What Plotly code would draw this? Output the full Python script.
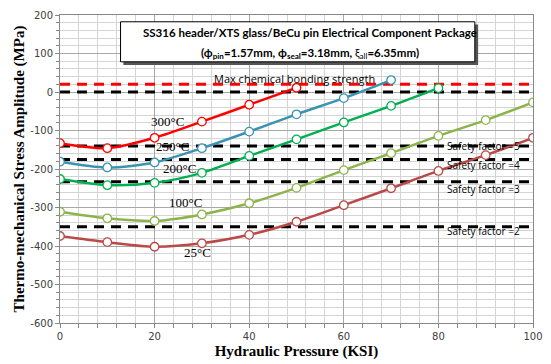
import plotly.graph_objects as go

pressure = [0, 10, 20, 30, 40, 50, 60, 70, 80, 90, 100]

s300 = [-133, -146, -119, -77, -33, 11]
s250 = [-181, -196, -183, -146, -103, -58, -16, 31]
s200 = [-226, -242, -236, -210, -166, -123, -79, -36, 10]
s100 = [-311, -328, -335, -318, -289, -249, -203, -159, -114, -73, -27]
s25 = [-374, -390, -402, -393, -371, -337, -294, -250, -205, -164, -119]

series_names = ["300°C", "250°C", "200°C", "100°C", "25°C"]
series_vals = [s300, s250, s200, s100, s25]
series_colors = ["#FF0000", "#3B93B2", "#00B050", "#8DB44C", "#BA4A47"]
label_pos = [(22.7, -76), (23.8, -142), (25.3, -198), (26.5, -287), (29, -418)]

bond_strength = 20
zero_line = 0
safety_levels = [-140, -175, -233, -350]
safety_labels = ["Safety factor =5", "Safety factor =4", "Safety factor =3", "Safety factor =2"]
safety_label_y = [-141, -190, -251, -362]

x_ticks = [0, 20, 40, 60, 80, 100]
y_ticks = [200, 100, 0, -100, -200, -300, -400, -500, -600]
y_tick_text = ["200", "100", "0", "-100", "-200", "-300", "-400", "-500", "-600"]

fig = go.Figure()

# reference lines
fig.add_trace(go.Scatter(x=[0, 100], y=[bond_strength, bond_strength], mode="lines",
                         line=dict(color="#FF0000", width=3, dash="10px,7px"),
                         hoverinfo="skip", showlegend=False))
for lv in [zero_line] + safety_levels:
    fig.add_trace(go.Scatter(x=[0, 100], y=[lv, lv], mode="lines",
                             line=dict(color="#000000", width=3, dash="10px,7px"),
                             hoverinfo="skip", showlegend=False))

for name, vals, col in zip(series_names, series_vals, series_colors):
    fig.add_trace(go.Scatter(
        x=pressure[:len(vals)], y=vals, mode="lines+markers", name=name,
        line=dict(color=col, width=2.5, shape="spline", smoothing=0.8),
        marker=dict(symbol="circle", size=8.5, color="white",
                    line=dict(color=col, width=1.3)),
        showlegend=False))

annotations = []
for name, (lx, ly) in zip(series_names, label_pos):
    annotations.append(dict(x=lx, y=ly, xref="x", yref="y", text=name, showarrow=False,
                            font=dict(family="Liberation Serif", size=13, color="#000000")))
annotations.append(dict(x=49.5, y=35, xref="x", yref="y", text="Max chemical bonding strength",
                        showarrow=False,
                        font=dict(family="Open Sans", size=11, color="#000000")))
for lab, ly in zip(safety_labels, safety_label_y):
    annotations.append(dict(x=89.6, y=ly, xref="x", yref="y", text=lab, showarrow=False,
                            font=dict(family="Open Sans", size=10, color="#000000")))

# title box text (two lines)
annotations.append(dict(
    x=0.5276, y=0.9416, xref="paper", yref="paper", showarrow=False,
    xanchor="center", yanchor="middle",
    text="<b>SS316 header/XTS glass/BeCu pin Electrical Component Package</b>",
    font=dict(family="Lato", size=11.5, color="#000000")))
annotations.append(dict(
    x=0.5276, y=0.875, xref="paper", yref="paper", showarrow=False,
    xanchor="center", yanchor="middle",
    text=("<b>(ϕ<sub>pin</sub>=1.57mm, ϕ<sub>seal</sub>=3.18mm, </b>ξ<sub>all</sub><b>=6.35mm)</b>"),
    font=dict(family="Lato", size=11.5, color="#000000")))

fig.update_layout(annotations=annotations)

# title box with shadow
fig.add_shape(type="rect", xref="paper", yref="paper",
              x0=0.134, x1=0.884, y0=0.838, y1=0.969,
              fillcolor="#555555", line=dict(width=0), layer="above")
fig.add_shape(type="rect", xref="paper", yref="paper",
              x0=0.128, x1=0.877, y0=0.848, y1=0.978,
              fillcolor="white", line=dict(color="#000000", width=1), layer="above")

fig.update_xaxes(range=[0, 100], tickvals=x_ticks, ticks="outside", ticklen=4,
                 tickcolor="#888888", automargin=False,
                 showgrid=True, gridcolor="#A8A8A8", gridwidth=1,
                 minor=dict(dtick=4, showgrid=True, gridcolor="#D4D4D4", ticks="outside",
                            ticklen=4, tickcolor="#888888"),
                 showline=True, linecolor="#888888", linewidth=1, mirror=True,
                 zeroline=False,
                 tickfont=dict(family="DejaVu Sans", size=10, color="#404040"),
                 title=dict(text="<b>Hydraulic Pressure (KSI)</b>", standoff=4,
                            font=dict(family="Liberation Serif", size=15, color="#000000")))
fig.update_yaxes(range=[-600, 200], tickvals=y_ticks, ticktext=y_tick_text,
                 ticks="outside", ticklen=4,
                 tickcolor="#888888", automargin=False,
                 showgrid=True, gridcolor="#A8A8A8", gridwidth=1,
                 minor=dict(dtick=20, showgrid=True, gridcolor="#D4D4D4", ticks="outside",
                            ticklen=3, tickcolor="#888888"),
                 showline=True, linecolor="#888888", linewidth=1, mirror=True,
                 zeroline=False,
                 tickfont=dict(family="DejaVu Sans", size=10, color="#404040"),
                 title=dict(text="<b>Thermo-mechanical Stress Amplitude (MPa)</b>", standoff=2,
                            font=dict(family="Liberation Serif", size=15, color="#000000")))

fig.update_layout(width=551, height=364, margin=dict(l=60, r=18, t=15, b=41),
                  plot_bgcolor="white", paper_bgcolor="white", showlegend=False)

fig.write_html("out.html", config={"displayModeBar": False},
               post_script="document.body.style.margin='0';document.body.style.overflow='hidden';")
